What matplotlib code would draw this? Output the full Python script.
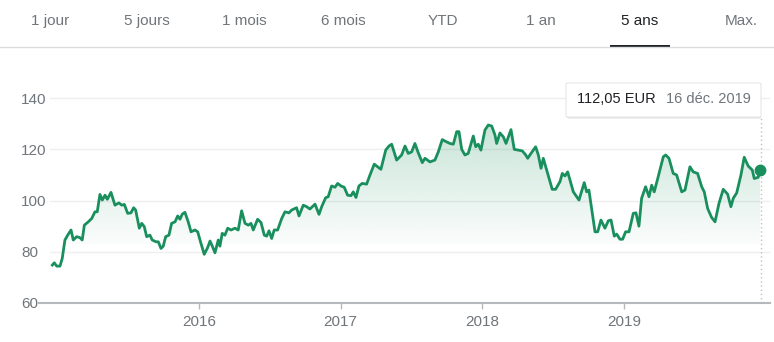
import numpy as np
import matplotlib
matplotlib.use("Agg")
import matplotlib.pyplot as plt
from matplotlib.patches import Polygon, Rectangle, FancyBboxPatch
from matplotlib.lines import Line2D

plt.rcParams['font.family'] = ['Liberation Sans', 'DejaVu Sans']

# --- data (decimal year, price in EUR) ---
dates = [
    2014.965, 2014.979, 2014.996, 2015.019, 2015.035, 2015.054, 2015.078, 2015.097,
    2015.113, 2015.137, 2015.160, 2015.176, 2015.191, 2015.219, 2015.243, 2015.266,
    2015.282, 2015.301, 2015.318, 2015.337, 2015.353, 2015.379, 2015.407, 2015.435,
    2015.455, 2015.473, 2015.497, 2015.520, 2015.539, 2015.553, 2015.579, 2015.596,
    2015.614, 2015.631, 2015.654, 2015.670, 2015.697, 2015.713, 2015.732, 2015.748,
    2015.765, 2015.788, 2015.807, 2015.831, 2015.850, 2015.866, 2015.882, 2015.901,
    2015.924, 2015.944, 2015.972, 2015.991, 2016.014, 2016.037, 2016.061, 2016.078,
    2016.094, 2016.113, 2016.136, 2016.148, 2016.164, 2016.183, 2016.203, 2016.226,
    2016.254, 2016.277, 2016.301, 2016.325, 2016.348, 2016.367, 2016.383, 2016.414,
    2016.438, 2016.461, 2016.478, 2016.494, 2016.513, 2016.531, 2016.555, 2016.584,
    2016.607, 2016.635, 2016.654, 2016.689, 2016.706, 2016.736, 2016.760, 2016.783,
    2016.819, 2016.847, 2016.866, 2016.894, 2016.912, 2016.936, 2016.960, 2016.979,
    2017.002, 2017.025, 2017.049, 2017.073, 2017.089, 2017.108, 2017.129, 2017.152,
    2017.183, 2017.207, 2017.237, 2017.261, 2017.284, 2017.318, 2017.341, 2017.360,
    2017.395, 2017.430, 2017.454, 2017.477, 2017.501, 2017.524, 2017.548, 2017.576,
    2017.595, 2017.630, 2017.665, 2017.689, 2017.717, 2017.748, 2017.771, 2017.795,
    2017.819, 2017.835, 2017.854, 2017.877, 2017.900, 2017.936, 2017.953, 2017.971,
    2017.990, 2018.018, 2018.042, 2018.066, 2018.089, 2018.101, 2018.124, 2018.148,
    2018.167, 2018.202, 2018.225, 2018.253, 2018.282, 2018.306, 2018.320, 2018.343,
    2018.376, 2018.395, 2018.414, 2018.430, 2018.454, 2018.493, 2018.517, 2018.548,
    2018.564, 2018.583, 2018.602, 2018.642, 2018.682, 2018.719, 2018.736, 2018.752,
    2018.795, 2018.814, 2018.837, 2018.865, 2018.889, 2018.908, 2018.931, 2018.948,
    2018.971, 2018.990, 2019.011, 2019.035, 2019.065, 2019.084, 2019.105, 2019.124,
    2019.152, 2019.176, 2019.195, 2019.213, 2019.241, 2019.277, 2019.294, 2019.317,
    2019.347, 2019.371, 2019.407, 2019.430, 2019.465, 2019.488, 2019.519, 2019.548,
    2019.566, 2019.590, 2019.618, 2019.642, 2019.670, 2019.700, 2019.731, 2019.754,
    2019.771, 2019.795, 2019.825, 2019.848, 2019.876, 2019.905, 2019.919, 2019.947,
    2019.959,
]
prices = [
    74.8, 75.7, 74.4, 74.4, 77.4, 84.6, 86.9, 88.5,
    84.6, 85.9, 85.5, 84.6, 90.4, 91.7, 93.0, 95.6,
    95.6, 102.4, 100.2, 102.1, 100.5, 103.2, 98.2, 99.1,
    98.2, 98.5, 95.0, 95.2, 97.2, 96.3, 89.2, 91.1,
    89.8, 85.9, 86.5, 84.6, 83.9, 83.9, 81.3, 82.2,
    85.9, 86.5, 91.1, 91.7, 94.0, 92.7, 94.7, 95.4,
    91.7, 87.8, 88.5, 87.8, 83.3, 79.0, 81.6, 84.2,
    82.2, 79.6, 84.6, 82.2, 87.2, 86.5, 89.2, 88.5,
    89.2, 88.5, 96.0, 91.1, 90.4, 91.1, 88.5, 92.7,
    91.4, 86.5, 86.1, 88.2, 85.2, 88.5, 88.5, 93.0,
    95.6, 95.2, 96.3, 97.2, 94.0, 98.2, 97.6, 96.7,
    98.6, 94.6, 97.6, 101.1, 101.5, 105.7, 105.2, 106.7,
    105.7, 105.2, 102.1, 101.9, 103.4, 101.2, 105.7, 106.7,
    106.4, 110.0, 114.2, 113.2, 112.2, 119.7, 121.3, 122.0,
    115.8, 117.8, 121.3, 118.4, 119.0, 122.3, 118.6, 114.8,
    116.5, 115.1, 115.8, 119.0, 123.8, 122.9, 122.3, 122.0,
    126.9, 126.9, 120.0, 117.8, 118.4, 125.2, 121.0, 122.0,
    119.7, 127.5, 129.5, 129.1, 125.6, 122.3, 126.4, 124.9,
    122.3, 127.7, 120.0, 119.7, 119.4, 117.8, 116.5, 118.4,
    121.0, 117.8, 112.6, 116.5, 111.9, 104.4, 104.4, 107.4,
    110.6, 109.6, 111.2, 103.4, 100.2, 107.0, 103.4, 104.1,
    87.8, 87.8, 92.4, 89.2, 92.1, 92.4, 86.1, 86.9,
    84.9, 84.9, 87.8, 87.8, 95.0, 95.2, 90.0, 100.9,
    105.4, 101.5, 106.0, 103.4, 109.3, 117.1, 117.8, 116.5,
    110.6, 110.0, 103.4, 104.1, 113.2, 111.2, 110.6, 105.4,
    103.4, 96.9, 93.4, 91.7, 98.9, 104.4, 102.5, 97.6,
    100.9, 103.0, 110.0, 116.9, 113.5, 111.9, 108.6, 109.1,
    112.05,
]
year_ticks = [2016, 2017, 2018, 2019]
y_ticks = [60, 80, 100, 120, 140]
tabs = ["1 jour", "5 jours", "1 mois", "6 mois", "YTD", "1 an", "5 ans", "Max."]
selected_tab = "5 ans"
last_date_label = "16 déc. 2019"

GREEN = '#1a8f5e'
GREY_TXT = '#70757a'
W, H = 774, 342


def fx(px):
    return px / W


def fy(py):
    return 1 - py / H


fig = plt.figure(figsize=(W / 100, H / 100), dpi=100)
fig.patch.set_facecolor('white')

# --- tab bar ---
tab_centers = [50, 147, 244, 343, 443, 541, 640, 741]
for name, cx in zip(tabs, tab_centers):
    col = '#202124' if name == selected_tab else GREY_TXT
    fig.text(fx(cx), fy(21), name, ha='center', va='center', fontsize=11, color=col)
fig.add_artist(Line2D([0, 1], [fy(46.5), fy(46.5)], transform=fig.transFigure,
                      color='#dadce0', lw=1))
sel = tab_centers[tabs.index(selected_tab)]
fig.add_artist(Rectangle((fx(sel - 30), fy(48)), fx(60), 3 / H, transform=fig.transFigure,
                         color='#202124', lw=0))

# --- chart ---
ax = fig.add_axes([fx(39), fy(303), fx(770) - fx(39), (303 - 93) / H])
ax.set_xlim(2014.871, 2020.030)
ax.set_ylim(60, 142)
for s in ['top', 'right', 'left']:
    ax.spines[s].set_visible(False)
ax.spines['bottom'].set_color('#b5b8bc')
ax.spines['bottom'].set_linewidth(1.5)

for v in y_ticks[1:]:
    ax.axhline(v, xmin=0.015, xmax=1, color='#efefef', lw=1, zorder=0)

ax.set_yticks(y_ticks)
ax.set_yticklabels([str(v) for v in y_ticks], ha='left')
ax.tick_params(axis='y', length=0, pad=13, labelsize=11, labelcolor=GREY_TXT)
ax.set_xticks(year_ticks)
ax.set_xticklabels([str(y) for y in year_ticks])
ax.tick_params(axis='x', length=4.5, width=1, color='#b5b8bc', pad=4,
               labelsize=11, labelcolor=GREY_TXT)

# gradient area under the line
base = 83
poly = Polygon([(dates[0], base)] + list(zip(dates, prices)) + [(dates[-1], base)],
               closed=True, facecolor='none', edgecolor='none')
ax.add_patch(poly)
g = np.linspace(0, 1, 256).reshape(-1, 1)
rgba = np.zeros((256, 1, 4))
rgba[..., :3] = matplotlib.colors.to_rgb(GREEN)
rgba[..., 3] = 0.02 + 0.22 * g[:, :1]
im = ax.imshow(rgba, origin='lower', aspect='auto', interpolation='bilinear',
               extent=[dates[0], dates[-1], base, max(prices)], zorder=1)
im.set_clip_path(poly)

ax.plot(dates, prices, color=GREEN, lw=2.0, solid_joinstyle='round', zorder=3)
ax.plot(dates[-1], prices[-1], 'o', ms=7.5, color=GREEN, zorder=4, clip_on=False)
ax.vlines(dates[-1] + 0.004, 60, 132.5, colors='#bdc1c6', linestyles=(0, (1, 2)), lw=1,
          zorder=2)

# --- tooltip ---
fig.add_artist(FancyBboxPatch((fx(567), fy(118.5)), fx(194), 34 / H,
                              boxstyle='round,pad=0,rounding_size=0.003',
                              transform=fig.transFigure, facecolor='#e2e2e2',
                              edgecolor='none'))
fig.add_artist(FancyBboxPatch((fx(566), fy(117)), fx(195), 34 / H,
                              boxstyle='round,pad=0,rounding_size=0.003',
                              transform=fig.transFigure, facecolor='white',
                              edgecolor='#e6e6e6', lw=0.8))
price_txt = f"{prices[-1]:.2f}".replace('.', ',') + " EUR"
fig.text(fx(577), fy(99), price_txt, ha='left', va='center', fontsize=10.5, color='#202124')
fig.text(fx(751), fy(99), last_date_label, ha='right', va='center', fontsize=10.5,
         color=GREY_TXT)

fig.savefig('out.png', dpi=100, facecolor='white')
